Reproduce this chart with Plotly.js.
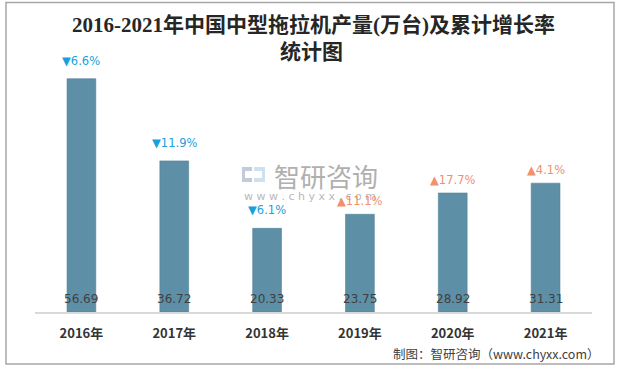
<!DOCTYPE html>
<html><head><meta charset="utf-8">
<script src="https://cdn.plot.ly/plotly-3.0.1.min.js"></script>
<style>body{margin:0;background:#fff}#chart{width:622px;height:368px}</style>
</head><body><div id="chart"></div>
<script>
const years = ['2016年','2017年','2018年','2019年','2020年','2021年'];
const output = [56.69, 36.72, 20.33, 23.75, 28.92, 31.31];
const growth = [-6.6, -11.9, -6.1, 11.1, 17.7, 4.1];
const titleLines = ['2016-2021年中国中型拖拉机产量(万台)及累计增长率', '统计图'];
const sourceText = '制图：智研咨询（www.chyxx.com）';

const L = 35, R = 592, T = 24, B = 312;
const px = X => (X - L) / (R - L);
const py = Y => (B - Y) / (B - T);

const cjk = '"Noto Sans CJK SC", "Noto Sans", sans-serif';
const ann = [];
ann.push({xref:'paper', yref:'paper', x:px(313), y:py(25), xanchor:'center', yanchor:'middle', showarrow:false,
  text:titleLines[0], font:{family:'"Liberation Serif", "Noto Sans CJK SC", serif', size:21, color:'#262626', weight:'bold'}});
ann.push({xref:'paper', yref:'paper', x:px(311), y:py(52), xanchor:'center', yanchor:'middle', showarrow:false,
  text:titleLines[1], font:{family:'"Liberation Serif", "Noto Sans CJK SC", serif', size:21, color:'#262626', weight:'bold'}});
// watermark
ann.push({xref:'paper', yref:'paper', x:px(272), y:py(175), xanchor:'left', yanchor:'middle', showarrow:false,
  text:'智研咨询', font:{family:cjk, size:26, color:'#B0B0B0'}});
ann.push({xref:'paper', yref:'paper', x:px(310), y:py(196), xanchor:'center', yanchor:'middle', showarrow:false,
  text:'w w w . c h y x x . c o m', font:{family:'"DejaVu Sans", sans-serif', size:11, color:'#B8B8B8'}});
// source
ann.push({xref:'paper', yref:'paper', x:px(602), y:py(353), xanchor:'right', yanchor:'middle', showarrow:false,
  text:sourceText, font:{family:cjk, size:12.5, color:'#404040'}});

years.forEach((c, i) => {
  ann.push({x:c, y:0, xref:'x', yref:'y', yanchor:'middle', yshift:13, showarrow:false,
    text:output[i].toFixed(2), font:{family:'"DejaVu Sans", sans-serif', size:12, color:'#404040'}});
  const up = growth[i] > 0;
  ann.push({x:c, y:output[i], xref:'x', yref:'y', yanchor:'middle', yshift: up ? 13 : 18, showarrow:false,
    text:(up ? '▲' : '▼') + Math.abs(growth[i]).toFixed(1) + '%',
    font:{family:'"DejaVu Sans", sans-serif', size:11.5, color: up ? '#F0906C' : '#1A9FDD'}});
});

const shapes = [
  {type:'rect', xref:'paper', yref:'paper', x0:px(6), x1:px(614), y0:py(364), y1:py(2.5), line:{color:'#A6A6A6', width:1.5}, fillcolor:'rgba(0,0,0,0)', layer:'below'},
  // logo approximation
  {type:'rect', xref:'paper', yref:'paper', x0:px(242), x1:px(252), y0:py(182), y1:py(167), line:{width:0}, fillcolor:'#C2CBDC', layer:'below'},
  {type:'rect', xref:'paper', yref:'paper', x0:px(245), x1:px(252), y0:py(178), y1:py(171), line:{width:0}, fillcolor:'#FFFFFF', layer:'below'},
  {type:'rect', xref:'paper', yref:'paper', x0:px(254), x1:px(265), y0:py(182), y1:py(167), line:{width:0}, fillcolor:'#CFE1EF', layer:'below'},
  {type:'rect', xref:'paper', yref:'paper', x0:px(254), x1:px(262), y0:py(178), y1:py(171), line:{width:0}, fillcolor:'#FFFFFF', layer:'below'}
];

const data = [{
  type:'bar', x:years, y:output,
  marker:{color:'#5D8FA7', line:{color:'#50819A', width:0.6}},
  hoverinfo:'none'
}];

const layout = {
  width:622, height:368,
  margin:{l:L, r:622-R, t:T, b:368-B},
  paper_bgcolor:'#fff', plot_bgcolor:'#fff',
  showlegend:false,
  bargap:0.69,
  xaxis:{showline:true, linecolor:'#D9D9D9', linewidth:1.5, ticks:'', ticklabelstandoff:9,
    tickfont:{family:cjk, size:13, color:'#333333', weight:'bold'}, fixedrange:true},
  yaxis:{range:[0,70], visible:false, showgrid:false, zeroline:false, fixedrange:true},
  annotations:ann,
  shapes:shapes
};
Plotly.newPlot('chart', data, layout, {displayModeBar:false, staticPlot:true});
</script></body></html>
